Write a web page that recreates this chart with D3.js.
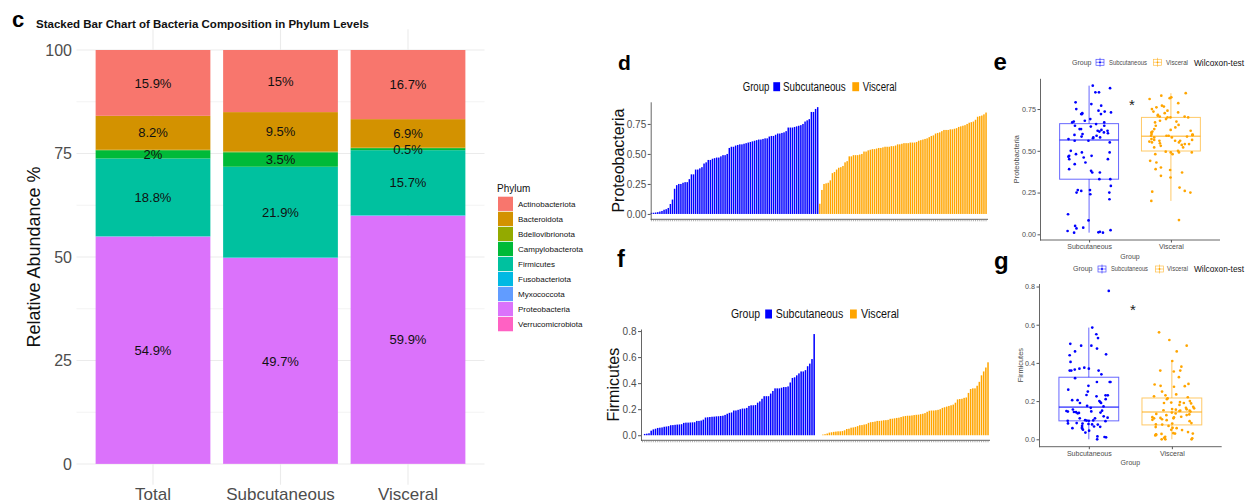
<!DOCTYPE html>
<html>
<head>
<meta charset="utf-8">
<script src="https://cdn.jsdelivr.net/npm/d3@7"></script>
<style>
  html, body { margin: 0; padding: 0; background: #fff; }
  svg { display: block; font-family: "Liberation Sans", Arial, Helvetica, sans-serif; }
</style>
</head>
<body>
<svg id="fig" width="1250" height="504"></svg>
<script>
// ---------- Phylum composition (percent of reads) ----------
const groups = ["Total", "Subcutaneous", "Visceral"];
const phyla = ["Actinobacteriota", "Bacteroidota", "Bdellovibrionota", "Campylobacterota",
  "Firmicutes", "Fusobacteriota", "Myxococcota", "Proteobacteria", "Verrucomicrobiota"];
const phylumColors = ["#F8766D", "#D39200", "#93AA00", "#00BA38", "#00C19F",
  "#00B9E3", "#619CFF", "#DB72FB", "#FF61C3"];
const totalPct        = [15.9, 8.2, 0.1, 2,   18.8, 0.04, 0.03, 54.9, 0.03];
const subcutaneousPct = [15,   9.5, 0.2, 3.5, 21.9, 0.1,  0.05, 49.7, 0.05];
const visceralPct     = [16.7, 6.9, 0.1, 0.5, 15.7, 0.1,  0.05, 59.9, 0.05];
const percentTicks = [0, 25, 50, 75, 100];
const percentMinorTicks = [12.5, 37.5, 62.5, 87.5];

// ---------- Per-sample relative abundance, sorted within each tissue ----------
const sampleGroups = ["Subcutaneous", "Visceral"];
const groupColors = ["#0000FF", "#FFA500"];

const proteoSubcutaneous = [
  0.01, 0.01, 0.012, 0.015, 0.02, 0.025, 0.035, 0.04, 0.05, 0.083,
  0.12, 0.21, 0.24, 0.25, 0.25, 0.26, 0.265, 0.265, 0.29, 0.33,
  0.33, 0.37, 0.37, 0.38, 0.39, 0.42, 0.43, 0.45, 0.45, 0.46,
  0.465, 0.47, 0.47, 0.48, 0.49, 0.49, 0.5, 0.55, 0.56, 0.56,
  0.57, 0.575, 0.58, 0.58, 0.585, 0.59, 0.595, 0.6, 0.605, 0.61,
  0.615, 0.62, 0.62, 0.625, 0.63, 0.63, 0.645, 0.65, 0.65, 0.66,
  0.67, 0.67, 0.675, 0.68, 0.69, 0.72, 0.72, 0.72, 0.725, 0.73,
  0.735, 0.74, 0.75, 0.77, 0.78, 0.79, 0.85, 0.85, 0.875, 0.89];
const proteoVisceral = [
  0.085, 0.2, 0.25, 0.255, 0.26, 0.28, 0.34, 0.35, 0.37, 0.385,
  0.39, 0.4, 0.43, 0.44, 0.48, 0.48, 0.49, 0.49, 0.49, 0.495,
  0.5, 0.52, 0.52, 0.53, 0.535, 0.54, 0.54, 0.545, 0.55, 0.55,
  0.555, 0.56, 0.56, 0.56, 0.565, 0.565, 0.57, 0.58, 0.58, 0.585,
  0.59, 0.59, 0.59, 0.595, 0.595, 0.595, 0.6, 0.61, 0.615, 0.62,
  0.625, 0.63, 0.64, 0.65, 0.655, 0.67, 0.675, 0.68, 0.69, 0.7,
  0.7, 0.7, 0.705, 0.705, 0.71, 0.715, 0.725, 0.73, 0.735, 0.74,
  0.75, 0.76, 0.765, 0.77, 0.785, 0.81, 0.815, 0.82, 0.83, 0.845];
const firmSubcutaneous = [
  0, 0.01, 0.012, 0.015, 0.035, 0.045, 0.05, 0.056, 0.058, 0.06,
  0.065, 0.067, 0.07, 0.077, 0.078, 0.08, 0.082, 0.083, 0.085, 0.095,
  0.097, 0.097, 0.098, 0.099, 0.1, 0.11, 0.11, 0.113, 0.12, 0.136,
  0.138, 0.14, 0.142, 0.143, 0.145, 0.146, 0.148, 0.15, 0.156, 0.165,
  0.172, 0.175, 0.19, 0.19, 0.195, 0.2, 0.205, 0.205, 0.21, 0.225,
  0.23, 0.23, 0.232, 0.25, 0.26, 0.28, 0.3, 0.3, 0.3, 0.32,
  0.34, 0.36, 0.36, 0.36, 0.365, 0.37, 0.37, 0.375, 0.405, 0.44,
  0.445, 0.46, 0.475, 0.49, 0.49, 0.5, 0.53, 0.55, 0.585, 0.777];
const firmVisceral = [
  0, 0, 0, 0.005, 0.008, 0.013, 0.02, 0.023, 0.026, 0.028,
  0.03, 0.03, 0.032, 0.038, 0.048, 0.05, 0.058, 0.06, 0.064, 0.07,
  0.077, 0.078, 0.082, 0.085, 0.095, 0.1, 0.102, 0.105, 0.11, 0.11,
  0.112, 0.115, 0.116, 0.118, 0.126, 0.127, 0.13, 0.133, 0.135, 0.14,
  0.145, 0.148, 0.15, 0.15, 0.152, 0.155, 0.157, 0.158, 0.162, 0.165,
  0.17, 0.18, 0.188, 0.19, 0.19, 0.192, 0.195, 0.2, 0.21, 0.215,
  0.22, 0.225, 0.23, 0.235, 0.25, 0.275, 0.278, 0.28, 0.287, 0.29,
  0.325, 0.355, 0.36, 0.36, 0.38, 0.41, 0.46, 0.49, 0.52, 0.56];
const proteoTicks = [0, 0.25, 0.5, 0.75];
const firmTicks = [0, 0.2, 0.4, 0.6, 0.8];

// ---------- helpers ----------
const svg = d3.select("#fig");
const GREY = "#4d4d4d";
const AXIS = "#555";

function txt(g, x, y, s, o = {}) {
  const t = g.append("text").attr("x", x).attr("y", y).text(s)
    .attr("font-size", o.size || 10)
    .attr("fill", o.fill || "#000")
    .attr("text-anchor", o.anchor || "start");
  if (o.weight) t.attr("font-weight", o.weight);
  if (o.len) t.attr("textLength", o.len).attr("lengthAdjust", "spacingAndGlyphs");
  if (o.rotate) t.attr("transform", `rotate(-90 ${x} ${y})`);
  return t;
}

// ================= Panel c: stacked composition =================
(function () {
  const g = svg.append("g");
  const pcts = [totalPct, subcutaneousPct, visceralPct];
  const rows = groups.map((name, gi) => {
    const r = { group: name };
    phyla.forEach((p, pi) => { r[p] = pcts[gi][pi]; });
    return r;
  });
  const layers = d3.stack().keys(phyla.slice().reverse())(rows);
  const color = d3.scaleOrdinal(phyla, phylumColors);

  const left = 76.5, right = 484.5, top = 29.3, bottom = 484.7;
  const x = d3.scaleBand().domain(groups).range([left, right]).paddingInner(0.1).paddingOuter(0.15);
  const y = d3.scaleLinear().domain([0, 100]).range([464, 50]);

  // grid
  g.selectAll(".minor").data(percentMinorTicks).join("line")
    .attr("x1", left).attr("x2", right).attr("y1", d => y(d)).attr("y2", d => y(d))
    .attr("stroke", "#ebebeb").attr("stroke-width", 0.6);
  g.selectAll(".major").data(percentTicks).join("line")
    .attr("x1", left).attr("x2", right).attr("y1", d => y(d)).attr("y2", d => y(d))
    .attr("stroke", "#ebebeb").attr("stroke-width", 1.1);
  g.selectAll(".vmajor").data(groups).join("line")
    .attr("x1", d => x(d) + x.bandwidth() / 2).attr("x2", d => x(d) + x.bandwidth() / 2)
    .attr("y1", top).attr("y2", bottom)
    .attr("stroke", "#ebebeb").attr("stroke-width", 1.1);

  // stacked bars
  g.selectAll(".layer").data(layers).join("g")
    .attr("fill", d => color(d.key))
    .selectAll("rect").data(d => d).join("rect")
    .attr("x", d => x(d.data.group))
    .attr("width", x.bandwidth())
    .attr("y", d => y(d[1]))
    .attr("height", d => Math.max(0, y(d[0]) - y(d[1])));

  // value labels for the main phyla
  const labels = [];
  layers.forEach(layer => layer.forEach(d => {
    const v = d.data[layer.key];
    if (v >= 0.5) labels.push({ x: x(d.data.group) + x.bandwidth() / 2, y: y((d[0] + d[1]) / 2), v });
  }));
  g.selectAll(".lab").data(labels).join("text")
    .attr("x", d => d.x).attr("y", d => d.y)
    .attr("dy", "0.36em")
    .attr("text-anchor", "middle").attr("font-size", 13).attr("fill", "#111")
    .text(d => d.v + "%");

  // axes
  const ya = g.append("g").attr("transform", `translate(${left},0)`)
    .call(d3.axisLeft(y).tickValues(percentTicks).tickSize(0).tickPadding(4.5));
  ya.select(".domain").remove();
  ya.selectAll("text").attr("font-size", 16).attr("fill", GREY)
    .attr("font-family", '"Liberation Sans", Arial, sans-serif');

  const xa = g.append("g").attr("transform", `translate(0,${bottom})`)
    .call(d3.axisBottom(x).tickSize(0).tickPadding(3.2));
  xa.select(".domain").remove();
  xa.selectAll("text").attr("font-size", 17).attr("fill", GREY)
    .attr("font-family", '"Liberation Sans", Arial, sans-serif');

  txt(g, 39.5, 257, "Relative Abundance %", { size: 18, anchor: "middle", rotate: true, fill: "#111" });
  txt(g, 12, 27, "c", { size: 22, weight: "bold" });
  txt(g, 36, 28, "Stacked Bar Chart of Bacteria Composition in Phylum Levels",
    { size: 11, weight: "bold", len: 333, fill: "#111" });

  // legend
  const lg = g.append("g");
  txt(lg, 497, 191.5, "Phylum", { size: 10, fill: "#111" });
  const keyH = 15.04;
  const items = lg.selectAll(".key").data(phyla).join("g")
    .attr("transform", (d, i) => `translate(498,${196.7 + i * keyH})`);
  items.append("rect").attr("width", 15).attr("height", keyH - 0.8)
    .attr("fill", d => color(d));
  items.append("text").attr("x", 20).attr("y", keyH / 2).attr("dy", "0.35em")
    .attr("font-size", 8).attr("fill", "#111").text(d => d);
})();

// ================= Panels d / f: per-sample bars =================
function barPanel(o) {
  const g = svg.append("g");
  const values = o.sub.concat(o.vis);
  const ids = values.map((_, i) => i);
  const grp = values.map((_, i) => (i < o.sub.length ? 0 : 1));
  const x = d3.scaleBand().domain(ids).range([o.x0, o.x1]).paddingInner(0.3).paddingOuter(0.1);
  const lo = Math.min(0, d3.min(values)), hi = d3.max(values);
  const pad = 0.05 * (hi - lo);
  const y = d3.scaleLinear().domain([lo - pad, hi + pad]).range([o.yBottom, o.yTop]);

  g.selectAll("rect").data(values).join("rect")
    .attr("x", (d, i) => x(i))
    .attr("width", x.bandwidth())
    .attr("y", d => y(d))
    .attr("height", d => y(0) - y(d))
    .attr("fill", (d, i) => groupColors[grp[i]]);

  // x axis: line plus one tick per sample
  g.append("line").attr("x1", o.axisX).attr("x2", o.x1 + 1)
    .attr("y1", o.yBottom).attr("y2", o.yBottom).attr("stroke", AXIS).attr("stroke-width", 0.9);
  g.selectAll(".xt").data(ids).join("line")
    .attr("x1", i => x(i) + x.bandwidth() / 2).attr("x2", i => x(i) + x.bandwidth() / 2)
    .attr("y1", o.yBottom).attr("y2", o.yBottom + 2)
    .attr("stroke", "#777").attr("stroke-width", 0.6);

  // y axis
  const ya = g.append("g").attr("transform", `translate(${o.axisX},0)`)
    .call(d3.axisLeft(y).tickValues(o.ticks).tickFormat(d3.format(o.fmt)).tickSize(3).tickSizeOuter(0).tickPadding(1.5));
  ya.select(".domain").attr("stroke", AXIS).attr("stroke-width", 0.9);
  ya.selectAll(".tick line").attr("stroke", AXIS);
  ya.selectAll("text").attr("font-size", 10).attr("fill", GREY)
    .attr("font-family", '"Liberation Sans", Arial, sans-serif');

  txt(g, o.titleX, (o.yTop + o.yBottom) / 2, o.title, { size: 16, anchor: "middle", rotate: true, fill: "#111" });
  txt(g, o.tagX, o.tagY, o.tag, { size: o.tagSize, weight: "bold" });

  // legend
  const L = o.legend;
  const cy = L.cy;
  txt(g, L.group[0], cy + 4.3, "Group", { size: 12, len: L.group[1], fill: "#111" });
  sampleGroups.forEach((name, k) => {
    g.append("rect").attr("x", L.keys[k]).attr("y", cy - 4.5).attr("width", 6.8).attr("height", 9)
      .attr("fill", groupColors[k]);
    txt(g, L.labels[k][0], cy + 4.3, name, { size: 12, len: L.labels[k][1], fill: "#111" });
  });
}

barPanel({
  sub: proteoSubcutaneous, vis: proteoVisceral,
  x0: 650.5, x1: 987, axisX: 650.7, yBottom: 219.3, yTop: 101.8,
  ticks: proteoTicks, fmt: ".2f", title: "Proteobacteria", titleX: 624.5,
  tag: "d", tagX: 618, tagY: 70, tagSize: 21,
  legend: { cy: 86.7, group: [742.7, 26.7], keys: [773.3, 852.3],
    labels: [[783, 62.7], [862.7, 34]] }
});
barPanel({
  sub: firmSubcutaneous, vis: firmVisceral,
  x0: 641.5, x1: 989, axisX: 641, yBottom: 440.3, yTop: 329,
  ticks: firmTicks, fmt: ".1f", title: "Firmicutes", titleX: 619.5,
  tag: "f", tagX: 617, tagY: 267, tagSize: 23.5,
  legend: { cy: 314, group: [731, 29], keys: [765.2, 850],
    labels: [[775.7, 67.6], [861, 38]] }
});

// ================= Panels e / g: box + jitter =================
function boxPanel(o) {
  const g = svg.append("g");
  const all = o.series.flat();
  const lo = d3.min(all), hi = d3.max(all);
  const pad = 0.05 * (hi - lo);
  const y = d3.scaleLinear().domain([lo - pad, hi + pad]).range([o.yBottom, o.yTop]);
  const x = d3.scalePoint().domain(sampleGroups).range([o.ax0, o.ax1]).padding(0.6);
  const step = x.step();
  const bw = 0.72 * step;

  // axes
  g.append("line").attr("x1", o.ax0).attr("x2", o.ax1).attr("y1", o.yBottom).attr("y2", o.yBottom)
    .attr("stroke", AXIS).attr("stroke-width", 0.9);
  const ya = g.append("g").attr("transform", `translate(${o.ax0},0)`)
    .call(d3.axisLeft(y).tickValues(o.ticks).tickFormat(d3.format(o.fmt)).tickSize(2.5).tickSizeOuter(0).tickPadding(1.5));
  ya.select(".domain").attr("stroke", AXIS).attr("stroke-width", 0.9);
  ya.selectAll(".tick line").attr("stroke", AXIS);
  ya.selectAll("text").attr("font-size", 7.2).attr("fill", GREY)
    .attr("font-family", '"Liberation Sans", Arial, sans-serif');
  const xa = g.append("g").attr("transform", `translate(0,${o.yBottom})`)
    .call(d3.axisBottom(x).tickSize(2.5).tickSizeOuter(0).tickPadding(2));
  xa.select(".domain").remove();
  xa.selectAll(".tick line").attr("stroke", AXIS);
  xa.selectAll("text").attr("font-size", 7).attr("fill", GREY)
    .attr("font-family", '"Liberation Sans", Arial, sans-serif');

  txt(g, (o.ax0 + o.ax1) / 2, o.yBottom + 18.5, "Group", { size: 7, anchor: "middle", fill: GREY });
  txt(g, o.titleX, (o.yTop + o.yBottom) / 2, o.title, { size: 7.4, anchor: "middle", rotate: true, fill: GREY });

  // boxes
  const rng = d3.randomLcg(o.seed);
  o.series.forEach((vals, k) => {
    const s = vals.slice().sort(d3.ascending);
    const q1 = d3.quantile(s, 0.25), med = d3.quantile(s, 0.5), q3 = d3.quantile(s, 0.75);
    const iqr = q3 - q1;
    const wLo = d3.min(s.filter(v => v >= q1 - 1.5 * iqr));
    const wHi = d3.max(s.filter(v => v <= q3 + 1.5 * iqr));
    const cx = x(sampleGroups[k]);
    const col = groupColors[k];
    const bg = g.append("g").attr("stroke", col).attr("stroke-opacity", 0.6).attr("fill", "none");
    bg.append("line").attr("x1", cx).attr("x2", cx).attr("y1", y(wHi)).attr("y2", y(q3)).attr("stroke-width", 1);
    bg.append("line").attr("x1", cx).attr("x2", cx).attr("y1", y(q1)).attr("y2", y(wLo)).attr("stroke-width", 1);
    bg.append("rect").attr("x", cx - bw / 2).attr("width", bw)
      .attr("y", y(q3)).attr("height", y(q1) - y(q3)).attr("stroke-width", 1);
    bg.append("line").attr("x1", cx - bw / 2).attr("x2", cx + bw / 2)
      .attr("y1", y(med)).attr("y2", y(med)).attr("stroke-width", 1.6);

    g.append("g").attr("fill", col).selectAll("circle").data(vals).join("circle")
      .attr("cx", () => cx + (rng() * 2 - 1) * 0.27 * step)
      .attr("cy", d => y(d))
      .attr("r", 1.35);
  });

  // significance mark
  txt(g, o.star[0], o.star[1], "*", { size: 15, anchor: "middle", fill: "#222" });
  txt(g, o.tagX, o.tagY, o.tag, { size: 24, weight: "bold" });

  // legend
  const L = o.legend, cy = L.cy;
  txt(g, L.group[0], cy + 2.3, "Group", { size: 6.5, len: L.group[1], fill: GREY });
  sampleGroups.forEach((name, k) => {
    const kx = L.keys[k];
    const kg = g.append("g").attr("stroke", groupColors[k]).attr("stroke-opacity", 0.7)
      .attr("fill", "none").attr("stroke-width", 0.7);
    kg.append("rect").attr("x", kx).attr("y", cy - 3).attr("width", 8).attr("height", 6);
    kg.append("line").attr("x1", kx).attr("x2", kx + 8).attr("y1", cy).attr("y2", cy);
    kg.append("line").attr("x1", kx + 4).attr("x2", kx + 4).attr("y1", cy - 4.5).attr("y2", cy + 4.5);
    kg.append("circle").attr("cx", kx + 4).attr("cy", cy).attr("r", 0.9)
      .attr("fill", groupColors[k]).attr("stroke", "none");
    txt(g, L.labels[k][0], cy + 2.3, name, { size: 6.5, len: L.labels[k][1], fill: GREY });
  });
  txt(g, L.test[0], cy + 3.2, "Wilcoxon-test", { size: 8.8, len: L.test[1], fill: "#111" });
}

boxPanel({
  series: [proteoSubcutaneous, proteoVisceral],
  ax0: 1040, ax1: 1220, yBottom: 240, yTop: 78.3,
  ticks: proteoTicks, fmt: ".2f", title: "Proteobacteria", titleX: 1019.5,
  seed: 0.137, star: [1132, 109.5], tag: "e", tagX: 993.5, tagY: 70,
  legend: { cy: 62.3, group: [1072, 19.5], keys: [1096, 1153.5],
    labels: [[1109, 38], [1166, 22]], test: [1194, 50] }
});
boxPanel({
  series: [firmSubcutaneous, firmVisceral],
  ax0: 1039, ax1: 1221.7, yBottom: 446.7, yTop: 283.5,
  ticks: firmTicks, fmt: ".1f", title: "Firmicutes", titleX: 1023.5,
  seed: 0.618, star: [1133, 315], tag: "g", tagX: 994, tagY: 269,
  legend: { cy: 269, group: [1073, 19.5], keys: [1098, 1155.5],
    labels: [[1111, 37], [1167, 21]], test: [1194, 50] }
});
</script>
</body>
</html>
